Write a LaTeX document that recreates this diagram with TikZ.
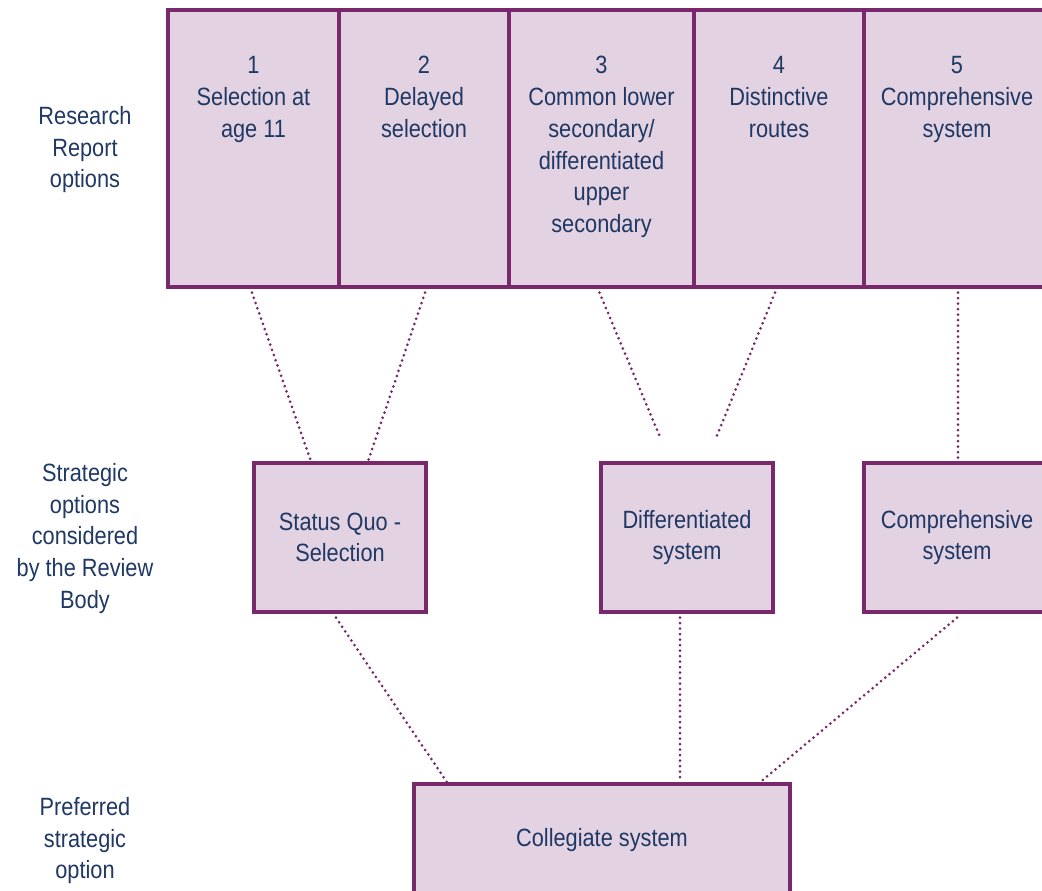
\documentclass[tikz,border=0pt]{standalone}
\usepackage{fontspec}
\setmainfont{Liberation Sans}[FakeStretch=0.87]
\usetikzlibrary{calc}
\definecolor{boxline}{HTML}{7A286C}
\definecolor{boxfill}{HTML}{E3D3E2}
\definecolor{txt}{HTML}{1F3864}
\begin{document}
\begin{tikzpicture}[x=1pt,y=-1pt,
  every node/.style={font=\fontsize{25}{31.75}\selectfont, text=txt},
  optbox/.style={draw=boxline, fill=boxfill, line width=3.4pt, inner sep=0pt, align=center},
  lbl/.style={align=center, inner sep=0pt, anchor=north},
  conn/.style={draw=boxline, line width=3pt, line cap=round, dash pattern=on 0pt off 5.5pt}]
\useasboundingbox (0,0) rectangle (1042,891);
\clip (0,0) rectangle (1042,891);

% top row: research report options
\node[optbox, minimum width=171pt, minimum height=277pt] (b1) at (253.5,148.5) {};
\node[optbox, minimum width=170pt, minimum height=277pt] (b2) at (424,148.5) {};
\node[optbox, minimum width=185pt, minimum height=277pt] (b3) at (601.5,148.5) {};
\node[optbox, minimum width=170pt, minimum height=277pt] (b4) at (779,148.5) {};
\node[optbox, minimum width=186pt, minimum height=277pt] (b5) at (957,148.5) {};

\node[lbl] (t1) at ([yshift=-48pt]b1.north) {1\\Selection at\\age 11};
\node[lbl] (t2) at ([yshift=-48pt]b2.north) {2\\Delayed\\selection};
\node[lbl] (t3) at ([yshift=-48pt]b3.north) {3\\Common lower\\secondary/\\differentiated\\upper\\secondary};
\node[lbl] (t4) at ([yshift=-48pt]b4.north) {4\\Distinctive\\routes};
\node[lbl] (t5) at ([yshift=-48pt]b5.north) {5\\Comprehensive\\system};

% middle row: strategic options
\node[optbox, minimum width=172pt, minimum height=149pt] (sq) at (340,537.5) {Status Quo -\\Selection};
\node[optbox, minimum width=172pt, minimum height=149pt] (diff) at (687,537.5) {Differentiated\\system};
\node[optbox, minimum width=186pt, minimum height=149pt] (comp) at (957,537.5) {Comprehensive\\system};

% bottom: preferred option
\node[optbox, minimum width=376pt, minimum height=113pt] (coll) at (602,840.5) {Collegiate system};

% row labels
\node[lbl] (l1) at (85,106) {Research\\Report\\options};
\node[lbl] (l2) at (85,463) {Strategic\\options\\considered\\by the Review\\Body};
\node[lbl] (l3) at (85,797) {Preferred\\strategic\\option};

% free ends of the two dangling connectors
\coordinate (d3) at (660,437);
\coordinate (d4) at (716,438);

% connectors
\draw[conn] ([xshift=-1.5pt,yshift=-4pt]b1.south) -- ([xshift=-29pt]sq.north);
\draw[conn] ([xshift=1pt,yshift=-4pt]b2.south) -- ([xshift=28pt]sq.north);
\draw[conn] ([xshift=-2pt,yshift=-4pt]b3.south) -- (d3);
\draw[conn] ([xshift=-4pt,yshift=-4pt]b4.south) -- (d4);
\draw[conn] ([xshift=1pt,yshift=-4pt]b5.south) -- ([xshift=1pt]comp.north);
\draw[conn] ([xshift=-4pt,yshift=-4pt]sq.south) -- ([xshift=-155pt]coll.north);
\draw[conn] ([xshift=-7pt,yshift=-4pt]diff.south) -- ([xshift=78pt]coll.north);
\draw[conn] ([yshift=-4pt]comp.south) -- ([xshift=158pt]coll.north);
\end{tikzpicture}
\end{document}
